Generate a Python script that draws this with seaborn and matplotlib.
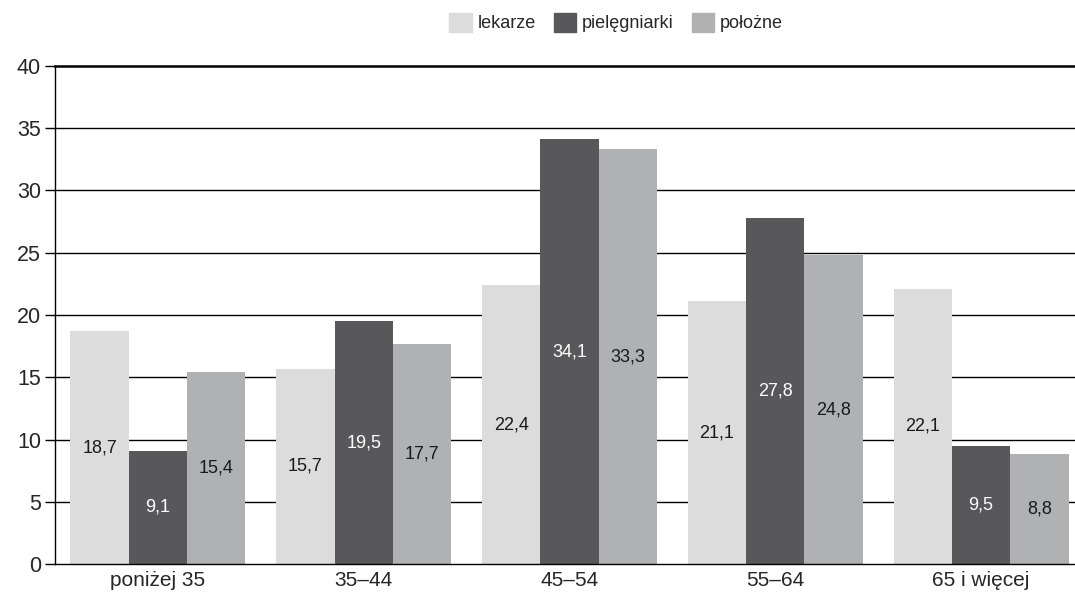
import matplotlib
matplotlib.use("Agg")
import matplotlib.pyplot as plt
import seaborn as sns
import pandas as pd
from matplotlib.ticker import FixedLocator, NullFormatter, FixedFormatter

categories = ["poniżej 35", "35–44", "45–54", "55–64", "65 i więcej"]
series_names = ["lekarze", "pielęgniarki", "położne"]
lekarze = [18.7, 15.7, 22.4, 21.1, 22.1]
pielegniarki = [9.1, 19.5, 34.1, 27.8, 9.5]
polozne = [15.4, 17.7, 33.3, 24.8, 8.8]
y_ticks = [0, 5, 10, 15, 20, 25, 30, 35, 40]

colors = ["#dcdcdd", "#58585a", "#b0b1b3"]
label_colors = ["#1a1a1a", "white", "#1a1a1a"]

rows = []
for name, vals in zip(series_names, [lekarze, pielegniarki, polozne]):
    for cat, v in zip(categories, vals):
        rows.append({"grupa": cat, "zawod": name, "wartosc": v})
df = pd.DataFrame(rows)

sns.set_style("white")
plt.rcParams["font.family"] = ["Liberation Sans", "DejaVu Sans"]

fig = plt.figure(figsize=(10.75, 5.93), dpi=100)
ax = fig.add_axes([55 / 1075, 1 - 564 / 593, 1029 / 1075, (564 - 66) / 593])

sns.barplot(data=df, x="grupa", y="wartosc", hue="zawod", order=categories,
            hue_order=series_names, palette=colors, width=0.85, saturation=1,
            linewidth=0, ax=ax, legend=False, zorder=3)

# value labels in the middle of each bar
for cont, col in zip(ax.containers, label_colors):
    for bar in cont:
        h = bar.get_height()
        ax.text(bar.get_x() + bar.get_width() / 2, h / 2,
                f"{h:.1f}".replace(".", ","), ha="center", va="center",
                fontsize=13, color=col, zorder=4)

ax.set_xlim(-0.5, 4.5)
ax.set_ylim(0, 40)
ax.set_yticks(y_ticks)
ax.set_yticklabels([str(t) for t in y_ticks], fontsize=15.5)

# category boundaries carry the tick marks, names sit at the centres
ax.xaxis.set_major_locator(FixedLocator([0.5, 1.5, 2.5, 3.5]))
ax.xaxis.set_major_formatter(NullFormatter())
ax.xaxis.set_minor_locator(FixedLocator(range(len(categories))))
ax.xaxis.set_minor_formatter(FixedFormatter(categories))
ax.tick_params(axis="x", which="major", direction="out", length=6, width=1, color="black")
ax.tick_params(axis="x", which="minor", length=0, labelsize=15, pad=5)
ax.tick_params(axis="y", direction="out", length=7, width=1, color="black", pad=3, left=True)
ax.set_xlabel("")
ax.set_ylabel("")

for yv in y_ticks[1:-1]:
    ax.axhline(yv, color="black", lw=1.0, zorder=1)

ax.spines["right"].set_visible(False)
ax.spines["top"].set_linewidth(1.8)
ax.spines["top"].set_color("black")
ax.spines["left"].set_color("black")
ax.spines["left"].set_linewidth(1.0)
ax.spines["bottom"].set_color("black")
ax.spines["bottom"].set_linewidth(1.0)
for s in ax.spines.values():
    s.set_zorder(5)

handles = [plt.Rectangle((0, 0), 1, 1, color=c) for c in colors]
fig.legend(handles, series_names, loc="center", bbox_to_anchor=(0.573, 0.962),
           ncol=3, frameon=False, fontsize=13, handlelength=1.25, handleheight=1.25,
           handletextpad=0.3, columnspacing=1.0)

fig.savefig("out.png", dpi=100)
